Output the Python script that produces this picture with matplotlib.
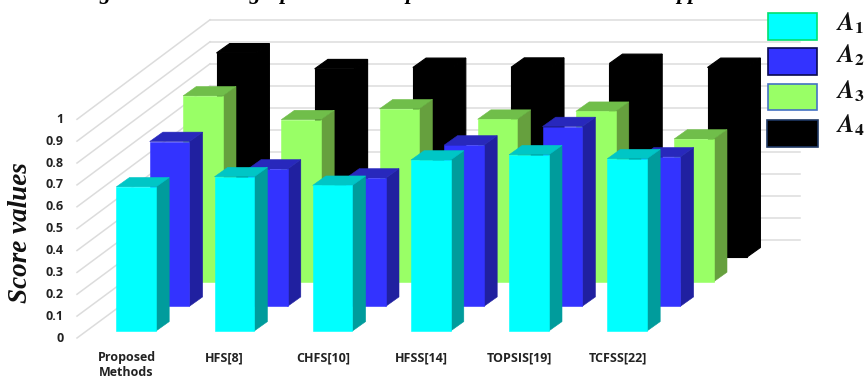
#3D style grouped bars, oblique projection drawn by hand on a flat axes
import matplotlib
matplotlib.use('Agg')
import matplotlib.pyplot as plt
from matplotlib.patches import Rectangle

plt.rcParams['mathtext.fontset'] = 'stix'

#data
methods = ['Proposed\nMethods', 'HFS[8]', 'CHFS[10]', 'HFSS[14]', 'TOPSIS[19]', 'TCFSS[22]']
a1 = [0.655, 0.701, 0.662, 0.777, 0.801, 0.783]
a2 = [0.749, 0.624, 0.583, 0.733, 0.817, 0.679]
a3 = [0.844, 0.736, 0.785, 0.738, 0.774, 0.648]
a4 = [0.927, 0.855, 0.861, 0.862, 0.879, 0.861]
y_ticks = [0, 0.1, 0.2, 0.3, 0.4, 0.5, 0.6, 0.7, 0.8, 0.9, 1]
y_labels = ['0', '0.1', '0.2', '0.3', '0.4', '0.5', '0.6', '0.7', '0.8', '0.9', '1']
series_names = [r'$\mathbfit{A}_{\mathbf{1}}$', r'$\mathbfit{A}_{\mathbf{2}}$',
                r'$\mathbfit{A}_{\mathbf{3}}$', r'$\mathbfit{A}_{\mathbf{4}}$']
title = 'Figure 4: The bar graph in the comparison with the results and approaches'

#front, side, top
colors = [('#00FFFF', '#009C9C', '#00C6C6'),
          ('#3333FF', '#2020A0', '#2828BC'),
          ('#99FF66', '#66A03E', '#70BE4A'),
          ('#000000', '#000000', '#000000')]
legend_edges = ['#00E070', '#0A0A50', '#4472C4', '#1F3864']

#projection settings (pixel units)
scale = 220         #height of 1.0
cat_step = 98.2
row_dx, row_dy = 33.4, 24.7
bar_w = 39.7
side_dx, side_dy = 13.2, 9.4
x0, y0 = 116.3, 331


def place(cat, row, value=0):
    return x0 + cat * cat_step + row * row_dx, y0 - row * row_dy - value * scale


def draw_bar(ax, cat, row, value, c):
    x, yb = place(cat, row)
    _, yt = place(cat, row, value)
    xr = x + bar_w
    #thin edge in the face colour closes the seams between faces
    lw = 0.8 if c[0] == '#000000' else 0.4
    ax.fill([xr, xr + side_dx, xr + side_dx, xr], [yb, yb - side_dy, yt - side_dy, yt],
            facecolor=c[1], edgecolor=c[1], lw=lw, zorder=3)
    ax.fill([x, xr, xr + side_dx, x + side_dx], [yt, yt, yt - side_dy, yt - side_dy],
            facecolor=c[2], edgecolor=c[2], lw=lw, zorder=3)
    ax.fill([x, xr, xr, x], [yb, yb, yt, yt], facecolor=c[0], edgecolor=c[0], lw=lw, zorder=3)


fig = plt.figure(figsize=(8.65, 3.8), dpi=100)
ax = fig.add_axes([0, 0, 1, 1])
ax.set_xlim(0, 865)
ax.set_ylim(380, 0)
ax.axis('off')

#walls
for v, lab in zip(y_ticks, y_labels):
    ax.plot([77, 210], [338 - v * 218.7, 239.8 - v * scale], color='#DCDCDC', lw=1.1, zorder=1)
    ax.plot([210, 800], [239.8 - v * scale, 239.8 - v * scale], color='#DCDCDC', lw=1.1, zorder=1)
    ax.text(63.5, 338 - v * 218.7, lab, ha='right', va='center', fontsize=9,
            family='Open Sans', weight='bold', color='#222222')

#back row first so the front rows cover it
rows = [a1, a2, a3, a4]
for row in [3, 2, 1, 0]:
    for cat in range(len(methods)):
        draw_bar(ax, cat, row, rows[row][cat], colors[row])

#category labels sit a little left of their bars
for cat, name in enumerate(methods):
    ax.text(126.5 + cat * cat_step, 351, name, ha='center', va='top', fontsize=9,
            family='Open Sans', weight='bold', color='#222222', linespacing=1.2)

ax.text(21, 233, 'Score values', rotation=90, ha='center', va='center', fontsize=19.5,
        family='Liberation Serif', style='italic', weight='bold', color='#111111')

#legend
boxes = [(767.7, 12.7, 49, 27), (767.7, 47.7, 49, 27.3), (767.7, 84, 49, 26.3), (767, 120, 51, 26.7)]
text_y = [23, 55, 91, 125]
for i in range(4):
    b = boxes[i]
    ax.add_patch(Rectangle((b[0], b[1]), b[2], b[3], facecolor=colors[i][0],
                           edgecolor=legend_edges[i], lw=1.2, zorder=4))
    ax.text(836, text_y[i], series_names[i], ha='left', va='center', fontsize=18, color='#111111')

ax.text(79, -1.5, title, ha='left', va='baseline', fontsize=16,
        family='Liberation Serif', style='italic', weight='bold', color='black')

fig.savefig('out.png', dpi=100)
